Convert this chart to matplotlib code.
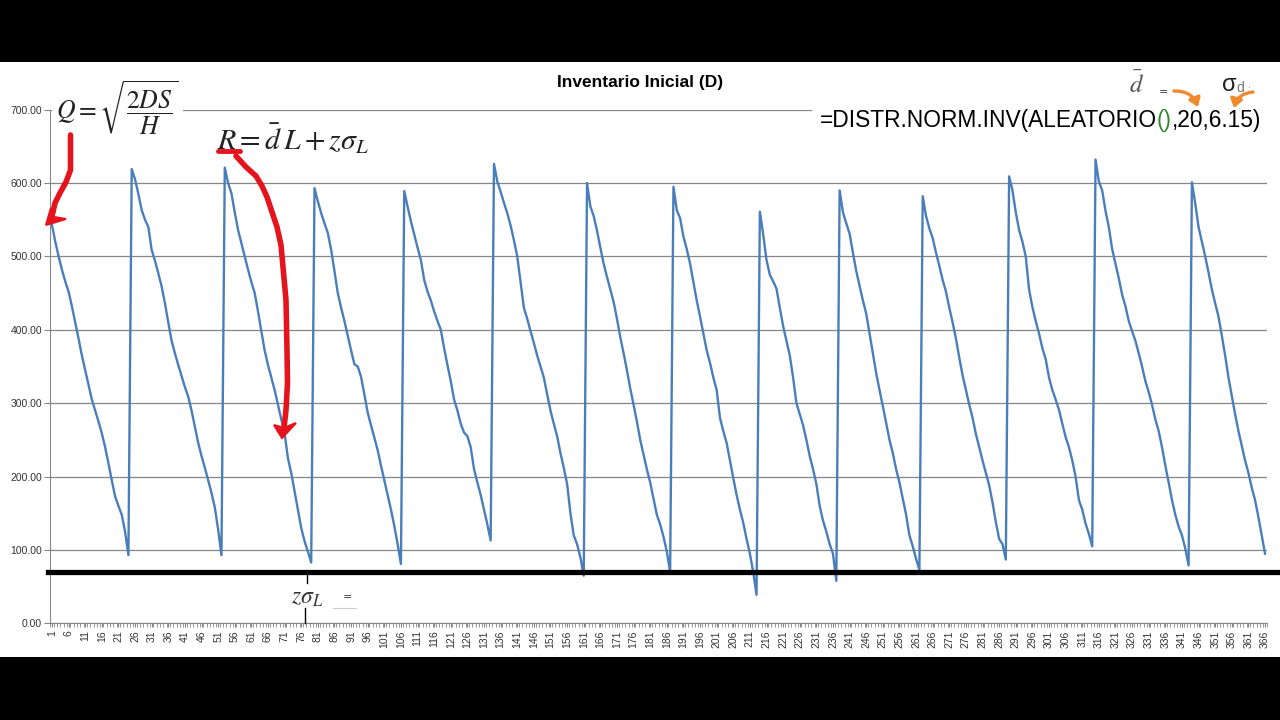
import numpy as np
import matplotlib.pyplot as plt
from matplotlib.patches import Rectangle, Polygon, FancyArrowPatch
from matplotlib.lines import Line2D

# inventory, one list per replenishment cycle
ciclo_01 = [543, 520, 500, 482, 466, 452, 432, 410, 388, 365, 345, 325, 305, 290, 275, 259,
            240, 218, 195, 173, 160, 148, 125, 93]
ciclo_02 = [619, 605, 585, 563, 550, 540, 509, 494, 477, 459, 436, 410, 385, 368, 352, 337,
            322, 309, 290, 268, 246, 228, 212, 195, 178, 158, 128, 93]
ciclo_03 = [621, 600, 586, 560, 536, 518, 500, 482, 465, 450, 425, 398, 372, 352, 335, 318,
            298, 278, 259, 225, 205, 180, 155, 130, 112, 98, 83]
ciclo_04 = [593, 575, 559, 545, 532, 509, 480, 450, 430, 412, 392, 372, 353, 350, 336, 312,
            287, 270, 253, 236, 215, 195, 175, 155, 133, 108, 81]
ciclo_05 = [589, 568, 548, 530, 512, 495, 468, 452, 440, 425, 412, 400, 375, 352, 330, 305,
            290, 272, 260, 255, 240, 210, 192, 175, 155, 135, 113]
ciclo_06 = [626, 602, 588, 573, 559, 542, 522, 500, 465, 430, 415, 398, 382, 365, 350, 335,
            312, 290, 272, 255, 232, 212, 190, 150, 120, 108, 90, 65]
ciclo_07 = [600, 568, 555, 535, 512, 490, 472, 455, 438, 415, 390, 368, 345, 320, 298, 275,
            250, 230, 210, 192, 170, 148, 135, 118, 98, 70]
ciclo_08 = [595, 563, 552, 527, 510, 490, 465, 440, 418, 395, 372, 355, 335, 318, 280, 262,
            246, 222, 198, 175, 155, 137, 115, 95, 70, 39]
ciclo_09 = [561, 530, 495, 475, 466, 456, 430, 405, 385, 365, 335, 300, 285, 270, 250, 228,
            210, 190, 160, 140, 125, 108, 95, 58]
ciclo_10 = [590, 560, 545, 531, 505, 480, 460, 440, 422, 395, 368, 341, 318, 296, 273, 250,
            232, 210, 192, 170, 148, 120, 105, 88, 73]
ciclo_11 = [582, 555, 538, 525, 505, 487, 468, 452, 430, 410, 388, 362, 338, 318, 298, 280,
            258, 240, 222, 205, 188, 165, 138, 115, 108, 87]
ciclo_12 = [609, 590, 560, 536, 520, 500, 455, 431, 412, 395, 375, 360, 335, 318, 305, 291,
            272, 254, 240, 222, 200, 168, 155, 136, 122, 105]
ciclo_13 = [632, 602, 590, 562, 540, 510, 490, 470, 448, 432, 412, 398, 385, 368, 350, 330,
            315, 298, 278, 262, 240, 215, 192, 168, 148, 132, 120, 102, 79]
ciclo_14 = [601, 572, 540, 520, 500, 478, 455, 436, 418, 392, 365, 335, 310, 285, 262, 242,
            222, 205, 185, 168, 145, 120, 95]

ciclos = [ciclo_01, ciclo_02, ciclo_03, ciclo_04, ciclo_05, ciclo_06, ciclo_07,
          ciclo_08, ciclo_09, ciclo_10, ciclo_11, ciclo_12, ciclo_13, ciclo_14]
inventario = np.concatenate(ciclos)
dias = np.arange(1, len(inventario) + 1)

y_ticks = [0, 100, 200, 300, 400, 500, 600, 700]
x_tick_dias = list(range(1, 367, 5))
stock_seguridad = 70
titulo = "Inventario Inicial (D)"

W, H = 1280, 720


def fx(x):
    return x / W


def fy(y):
    return 1 - y / H


fig = plt.figure(figsize=(12.8, 7.2), dpi=100, facecolor="black")
fig.patches.append(Rectangle((0, fy(657)), 1, fy(62) - fy(657), transform=fig.transFigure,
                             facecolor="white", edgecolor="none", zorder=-10))

ax = fig.add_axes([fx(50.3), fy(623.4), fx(1216.4), 513.8 / H])
ax.set_facecolor("none")
ax.plot(dias, inventario, color="#4a7ebb", lw=1.7, zorder=3)

ax.set_xlim(0.5, 366.5)
ax.set_ylim(0, 700)
ax.set_yticks(y_ticks)
ax.set_yticklabels([f"{v:.2f}" for v in y_ticks], fontsize=7.5, family="Liberation Sans",
                   color="#333333")
ax.set_xticks(x_tick_dias)
ax.set_xticklabels([str(d) for d in x_tick_dias], rotation=90, fontsize=7.5,
                   family="Liberation Sans", color="#333333")
ax.set_xticks(np.arange(0.5, 367, 1), minor=True)
ax.tick_params(axis="x", which="both", length=3, color="#868686", pad=2)
ax.tick_params(axis="y", length=4, color="#868686", pad=2)
ax.grid(axis="y", color="#868686", lw=0.9)
ax.set_axisbelow(True)
for s in ["top", "right"]:
    ax.spines[s].set_visible(False)
for s in ["left", "bottom"]:
    ax.spines[s].set_color("#868686")

# safety stock line
ax.plot([-0.2, 370.0], [stock_seguridad, stock_seguridad], color="black", lw=3.8,
        clip_on=False, zorder=5)

fig.text(fx(640), fy(83), titulo, ha="center", va="center", fontsize=12.5,
         fontweight="bold", family="Liberation Sans")

# formula boxes
fig.text(fx(56), fy(108), r"$Q=\sqrt{\dfrac{2DS}{H}}$", fontsize=18.5, math_fontfamily="stix",
         ha="left", va="center", color="#222222",
         bbox=dict(facecolor="white", edgecolor="none", pad=3))
fig.text(fx(217), fy(139), r"$R=\bar{d}\,L+z\sigma_L$", fontsize=21.5, math_fontfamily="stix",
         ha="left", va="center", color="#222222")
fig.text(fx(291), fy(597), r"$z\sigma_L$", fontsize=17, math_fontfamily="stix",
         ha="left", va="center", color="#333333")
fig.text(fx(347), fy(597), "=", fontsize=8, ha="center", va="center", color="#333333")
fig.add_artist(Line2D([fx(333), fx(356)], [fy(608), fy(608)], color="#cccccc", lw=0.8))
fig.add_artist(Line2D([fx(307), fx(307)], [fy(573), fy(583)], color="black", lw=1))
fig.add_artist(Line2D([fx(305), fx(305)], [fy(608), fy(623)], color="black", lw=1))

# excel formula, top right
fig.patches.append(Rectangle((fx(812), fy(140)), fx(460), 40 / H, transform=fig.transFigure,
                             facecolor="white", edgecolor="none", zorder=1))
r = fig.canvas.get_renderer()
piezas = [("=DISTR.NORM.INV(ALEATORIO", "black"), ("()", "#2e8b2e"), (",20,6.15)", "black")]
x0 = 820
for txt, col in piezas:
    t = fig.text(fx(x0), fy(121), txt, fontsize=16.4, family="Liberation Sans", color=col,
                 ha="left", va="center", zorder=3)
    x0 = t.get_window_extent(r).x1

fig.text(fx(1137), fy(85), r"$\bar{d}$", fontsize=18, math_fontfamily="stix",
         ha="center", va="center", color="#555555")
fig.text(fx(1163), fy(92), "=", fontsize=8, ha="center", va="center", color="#333333")
fig.text(fx(1229), fy(85), "σ", fontsize=17, family="Liberation Sans", ha="center",
         va="center", color="#222222")
fig.text(fx(1240), fy(88), "d", fontsize=10, family="Liberation Sans", ha="center",
         va="center", color="#777777")
fig.text(fx(1249), fy(89), ":", fontsize=6, ha="center", va="center", color="#777777")

naranja = "#f0892e"
for a, b, rad in [((1174, 91), (1198, 107), -0.35), ((1253, 92), (1234, 108), 0.35)]:
    fig.add_artist(FancyArrowPatch((fx(a[0]), fy(a[1])), (fx(b[0]), fy(b[1])),
                                   transform=fig.transFigure,
                                   connectionstyle=f"arc3,rad={rad}",
                                   arrowstyle="-|>,head_length=5,head_width=3.5",
                                   color=naranja, lw=2.4, shrinkA=0, shrinkB=0, zorder=6))

# red hand drawn arrows
rojo = "#e5141c"
trazo_q = [(70.5, 135), (70.5, 170), (66, 182), (60, 193), (55, 203), (53, 212), (51, 219)]
trazo_r = [(236, 156), (246, 167), (256, 176), (262, 186), (267, 197), (272, 212),
           (277, 227), (281, 245), (283, 267), (286, 300), (287, 350), (287.5, 383),
           (286, 410), (284, 428)]
for tr in [trazo_q, trazo_r]:
    fig.add_artist(Line2D([fx(p[0]) for p in tr], [fy(p[1]) for p in tr], color=rojo,
                          lw=4, solid_capstyle="round", solid_joinstyle="round", zorder=6))
fig.add_artist(Line2D([fx(218), fx(240)], [fy(150.5), fy(150.5)], color=rojo, lw=3.5,
                      solid_capstyle="round", zorder=6))
for pts in [[(46, 225), (51, 208), (54, 217), (66, 219)],
            [(282, 438), (274, 425), (284, 428), (296, 423)]]:
    fig.patches.append(Polygon([(fx(p[0]), fy(p[1])) for p in pts], closed=True,
                               transform=fig.transFigure, facecolor=rojo, edgecolor=rojo,
                               lw=1.5, zorder=6))

fig.savefig("out.png", dpi=100, facecolor="black")
